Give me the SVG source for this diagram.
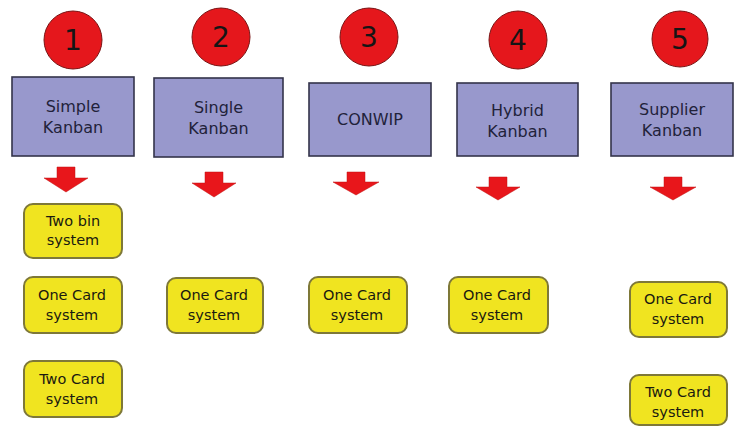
<svg xmlns="http://www.w3.org/2000/svg" width="737" height="427" viewBox="0 0 737 427">
<style>
.num{fill:#e5171c;stroke:#7a1414;stroke-width:1}
.numt{font-family:"DejaVu Sans",sans-serif;font-size:28px;fill:#151515;text-anchor:middle}
.box{fill:#9898cc;stroke:#34344a;stroke-width:1.6}
.boxt{font-family:"DejaVu Sans",sans-serif;font-size:16px;fill:#22223a;text-anchor:middle}
.card{fill:#f0e420;stroke:#7e7838;stroke-width:2}
.cardt{font-family:"DejaVu Sans",sans-serif;font-size:14.5px;fill:#1a1a10;text-anchor:middle}
.arr{fill:#e8161b;stroke:#c01010;stroke-width:0.5}
</style>
<rect width="737" height="427" fill="#ffffff"/>
<g id="n1"><circle class="num" cx="73" cy="40" r="29"/><text class="numt" x="73" y="50">1</text></g>
<g id="n2"><circle class="num" cx="221" cy="37" r="29"/><text class="numt" x="221" y="47">2</text></g>
<g id="n3"><circle class="num" cx="369" cy="37" r="29"/><text class="numt" x="369" y="47">3</text></g>
<g id="n4"><circle class="num" cx="518" cy="40" r="29"/><text class="numt" x="518" y="50">4</text></g>
<g id="n5"><circle class="num" cx="680" cy="39" r="28"/><text class="numt" x="680" y="49">5</text></g>

<g id="simple"><rect class="box" x="12" y="77" width="122" height="79"/><text class="boxt" x="73" y="112">Simple</text><text class="boxt" x="73" y="133">Kanban</text></g>
<g id="single"><rect class="box" x="154" y="78" width="129" height="79"/><text class="boxt" x="218.5" y="113">Single</text><text class="boxt" x="218.5" y="134">Kanban</text></g>
<g id="conwip"><rect class="box" x="309" y="83" width="122" height="73"/><text class="boxt" x="370" y="125">CONWIP</text></g>
<g id="hybrid"><rect class="box" x="457" y="83" width="121" height="73"/><text class="boxt" x="517.5" y="116">Hybrid</text><text class="boxt" x="517.5" y="137">Kanban</text></g>
<g id="supplier"><rect class="box" x="611" y="83" width="122" height="73"/><text class="boxt" x="672" y="115">Supplier</text><text class="boxt" x="672" y="136">Kanban</text></g>

<g id="connectors">
<path class="arr" d="M57 167 H75 V178 H88 L66 192 L44 178 H57 Z"/>
<path class="arr" d="M205 172 H223 V183 H236 L214 197 L192 183 H205 Z"/>
<path class="arr" d="M347 172 H365 V182 H379 L356 195 L333 182 H347 Z"/>
<path class="arr" d="M489 177 H507 V187 H520 L498 200 L476 187 H489 Z"/>
<path class="arr" d="M664 177 H682 V187 H696 L673 200 L650 187 H664 Z"/>
</g>

<g id="twobin"><rect class="card" x="24" y="204" width="98" height="54" rx="9"/><text class="cardt" x="73" y="226">Two bin</text><text class="cardt" x="73" y="245">system</text></g>
<g id="onecard1"><rect class="card" x="24" y="277" width="98" height="56" rx="9"/><text class="cardt" x="72" y="300">One Card</text><text class="cardt" x="72" y="320">system</text></g>
<g id="twocard1"><rect class="card" x="24" y="361" width="98" height="56" rx="9"/><text class="cardt" x="72" y="384">Two Card</text><text class="cardt" x="72" y="404">system</text></g>
<g id="onecard2"><rect class="card" x="167" y="278" width="96" height="55" rx="9"/><text class="cardt" x="214" y="300">One Card</text><text class="cardt" x="214" y="320">system</text></g>
<g id="onecard3"><rect class="card" x="309" y="277" width="98" height="56" rx="9"/><text class="cardt" x="357" y="300">One Card</text><text class="cardt" x="357" y="320">system</text></g>
<g id="onecard4"><rect class="card" x="449" y="277" width="99" height="56" rx="9"/><text class="cardt" x="497" y="300">One Card</text><text class="cardt" x="497" y="320">system</text></g>
<g id="onecard5"><rect class="card" x="630" y="282" width="97" height="55" rx="9"/><text class="cardt" x="678" y="304">One Card</text><text class="cardt" x="678" y="324">system</text></g>
<g id="twocard5"><rect class="card" x="630" y="375" width="97" height="50" rx="9"/><text class="cardt" x="678" y="397">Two Card</text><text class="cardt" x="678" y="417">system</text></g>
</svg>
